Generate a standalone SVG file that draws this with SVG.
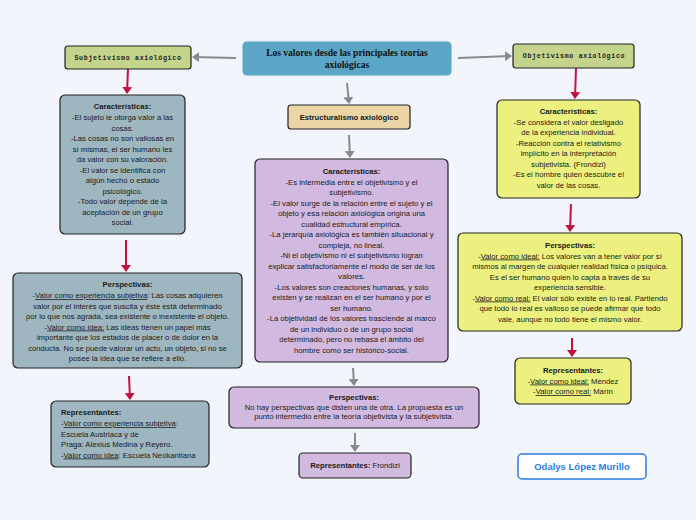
<svg xmlns="http://www.w3.org/2000/svg" width="696" height="520" viewBox="0 0 696 520">
<defs>
<marker id="ag" markerWidth="10" markerHeight="10" refX="6" refY="5" orient="auto" markerUnits="userSpaceOnUse"><path d="M0,0 L7,5 L0,10 Z" fill="#8a8a8a"/></marker>
<marker id="ar" markerWidth="10" markerHeight="10" refX="6" refY="5" orient="auto" markerUnits="userSpaceOnUse"><path d="M0,0 L7,5 L0,10 Z" fill="#c4123f"/></marker>
</defs>
<style>
.t{font-family:"Liberation Sans",Arial,sans-serif;font-size:7.7px;fill:#1a1a1a}
.c{text-anchor:middle}
.b{font-weight:bold}
.u{text-decoration:underline}
.box{stroke:#222;stroke-width:1.2}
.g{stroke:#8a8a8a;stroke-width:2;fill:none;marker-end:url(#ag)}
.r{stroke:#c4123f;stroke-width:2;fill:none;marker-end:url(#ar)}
.mono{font-family:"Liberation Mono","Courier New",monospace;font-size:6.6px;font-weight:bold;letter-spacing:0.7px;text-anchor:middle;fill:#222}
</style>
<rect width="696" height="520" fill="#f3f5fd"/>
<g id="connectors">
<path class="g" d="M236,58 L193,57"/>
<path class="g" d="M458,58 L511,56"/>
<path class="g" d="M347,83 L349,103"/>
<path class="g" d="M349,135 L350,157"/>
<path class="g" d="M353,368 L354,385"/>
<path class="g" d="M355,433 L355,451"/>
<path class="r" d="M128,69 L127,93"/>
<path class="r" d="M126,240 L126,271"/>
<path class="r" d="M129,376 L130,399"/>
<path class="r" d="M576,68 L575,98"/>
<path class="r" d="M571,204 L570,231"/>
<path class="r" d="M572,338 L572,356"/>
</g>
<g id="title">
<rect x="242" y="41" width="210" height="35" rx="5" fill="#5ba6c6" stroke="#e8f0f8" stroke-width="1"/>
<text x="347" y="55.5" font-family="Liberation Serif,serif" font-size="9.5" font-weight="bold" text-anchor="middle" fill="#111">Los valores desde las principales teorías</text>
<text x="347" y="67.5" font-family="Liberation Serif,serif" font-size="9.5" font-weight="bold" text-anchor="middle" fill="#111">axiológicas</text>
</g>
<g id="subjetivismo">
<rect class="box" x="65" y="46" width="126" height="23" rx="3" fill="#c4d48a"/>
<text class="mono" x="128" y="60">Subjetivismo axiológico</text>
</g>
<g id="objetivismo">
<rect class="box" x="513" y="44" width="121" height="24" rx="3" fill="#c4d48a"/>
<text class="mono" x="574" y="58">Objetivismo axiológico</text>
</g>
<g id="sub-caracteristicas">
<rect class="box" x="60" y="95" width="125" height="139" rx="5" fill="#9eb6c0"/>
<text class="t c" x="122.5"><tspan class="b" x="122.5" y="109">Características:</tspan><tspan x="122.5" y="120">-El sujeto le otorga valor a las</tspan><tspan x="122.5" y="130.5">cosas.</tspan><tspan x="122.5" y="141">-Las cosas no son valiosas en</tspan><tspan x="122.5" y="151.5">sí mismas, el ser humano les</tspan><tspan x="122.5" y="162">da valor con su valoración.</tspan><tspan x="122.5" y="172.5">-El valor se identifica con</tspan><tspan x="122.5" y="183">algún hecho o estado</tspan><tspan x="122.5" y="193.5">psicológico.</tspan><tspan x="122.5" y="204">-Todo valor depende de la</tspan><tspan x="122.5" y="214.5">aceptación de un grupo</tspan><tspan x="122.5" y="225">social.</tspan></text>
</g>
<g id="sub-perspectivas">
<rect class="box" x="13" y="273" width="229" height="95" rx="5" fill="#9eb6c0"/>
<text class="t c" x="127.5"><tspan class="b" x="127.5" y="287">Perspectivas:</tspan><tspan x="127.5" y="298">-<tspan class="u">Valor como experiencia subjetiva</tspan>: Las cosas adquieren</tspan><tspan x="127.5" y="308.5">valor por el interés que suscita y éste está determinado</tspan><tspan x="127.5" y="319">por lo que nos agrada, sea existente o inexistente el objeto.</tspan><tspan x="127.5" y="329.5">-<tspan class="u">Valor como idea:</tspan> Las ideas tienen un papel más</tspan><tspan x="127.5" y="340">importante que los estados de placer o de dolor en la</tspan><tspan x="127.5" y="350.5">conducta. No se puede valorar un acto, un objeto, si no se</tspan><tspan x="127.5" y="361">posee la idea que se refiere a ello.</tspan></text>
</g>
<g id="sub-representantes">
<rect class="box" x="51" y="401" width="158" height="66" rx="5" fill="#9eb6c0"/>
<text class="t"><tspan class="b" x="61" y="415">Representantes:</tspan><tspan x="61" y="426">-<tspan class="u">Valor como experiencia subjetiva</tspan>:</tspan><tspan x="61" y="436.5">Escuela Austriaca y de</tspan><tspan x="61" y="447">Praga: Alexius Medina y Reyero.</tspan><tspan x="61" y="457.5">-<tspan class="u">Valor como idea</tspan>: Escuela Neokantiana</tspan></text>
</g>
<g id="estructuralismo">
<rect class="box" x="288" y="105" width="122" height="24" rx="3" fill="#ebd5a5"/>
<text class="t c b" x="349" y="119.5">Estructuralismo axiológico</text>
</g>
<g id="est-caracteristicas">
<rect class="box" x="255" y="159" width="193" height="203" rx="5" fill="#d2b9df"/>
<text class="t c" x="351.5"><tspan class="b" x="351.5" y="174">Características:</tspan><tspan x="351.5" y="184.5">-Es intermedia entre el objetivismo y el</tspan><tspan x="351.5" y="195">subjetivismo.</tspan><tspan x="351.5" y="205.5">-El valor surge de la relación entre el sujeto y el</tspan><tspan x="351.5" y="216">objeto y esa relación axiológica origina una</tspan><tspan x="351.5" y="226.5">cualidad estructural empírica.</tspan><tspan x="351.5" y="237">-La jerarquía axiológica es también situacional y</tspan><tspan x="351.5" y="247.5">compleja, no lineal.</tspan><tspan x="351.5" y="258">-Ni el objetivismo ni el subjetivismo logran</tspan><tspan x="351.5" y="268.5">explicar satisfactoriamente el modo de ser de los</tspan><tspan x="351.5" y="279">valores.</tspan><tspan x="351.5" y="289.5">-Los valores son creaciones humanas, y solo</tspan><tspan x="351.5" y="300">existen y se realizan en el ser humano y por el</tspan><tspan x="351.5" y="310.5">ser humano.</tspan><tspan x="351.5" y="321">-La objetividad de los valores trasciende al marco</tspan><tspan x="351.5" y="331.5">de un individuo o de un grupo social</tspan><tspan x="351.5" y="342">determinado, pero no rebasa el ámbito del</tspan><tspan x="351.5" y="352.5">hombre como ser histórico-social.</tspan></text>
</g>
<g id="est-perspectivas">
<rect class="box" x="229" y="387" width="250" height="41" rx="5" fill="#d2b9df"/>
<text class="t c" x="354"><tspan class="b" x="354" y="400">Perspectivas:</tspan><tspan x="354" y="409.5">No hay perspectivas que disten una de otra. La propuesta es un</tspan><tspan x="354" y="419">punto intermedio entre la teoría objetivista y la subjetivista.</tspan></text>
</g>
<g id="est-representantes">
<rect class="box" x="299" y="453" width="112" height="25" rx="4" fill="#d2b9df"/>
<text class="t c" x="355" y="468"><tspan class="b">Representantes:</tspan> Frondizi</text>
</g>
<g id="obj-caracteristicas">
<rect class="box" x="497" y="100" width="143" height="98" rx="5" fill="#ecf07e"/>
<text class="t c" x="568.5"><tspan class="b" x="568.5" y="114">Características:</tspan><tspan x="568.5" y="124.5">-Se considera el valor desligado</tspan><tspan x="568.5" y="135">de la experiencia individual.</tspan><tspan x="568.5" y="145.5">-Reacción contra el relativismo</tspan><tspan x="568.5" y="156">implícito en la interpretación</tspan><tspan x="568.5" y="166.5">subjetivista. (Frondizi)</tspan><tspan x="568.5" y="177">-Es el hombre quien descubre el</tspan><tspan x="568.5" y="187.5">valor de las cosas.</tspan></text>
</g>
<g id="obj-perspectivas">
<rect class="box" x="458" y="233" width="224" height="98" rx="5" fill="#ecf07e"/>
<text class="t c" x="570"><tspan class="b" x="570" y="248">Perspectivas:</tspan><tspan x="570" y="258.5">-<tspan class="u">Valor como ideal:</tspan> Los valores van a tener valor por sí</tspan><tspan x="570" y="269">mismos al margen de cualquier realidad física o psíquica.</tspan><tspan x="570" y="279.5">Es el ser humano quien lo capta a través de su</tspan><tspan x="570" y="290">experiencia sensible.</tspan><tspan x="570" y="300.5">-<tspan class="u">Valor como real:</tspan> El valor sólo existe en lo real. Partiendo</tspan><tspan x="570" y="311">que todo lo real es valioso se puede afirmar que todo</tspan><tspan x="570" y="321.5">vale, aunque no todo tiene el mismo valor.</tspan></text>
</g>
<g id="obj-representantes">
<rect class="box" x="515" y="358" width="116" height="46" rx="5" fill="#ecf07e"/>
<text class="t c" x="573"><tspan class="b" x="573" y="373">Representantes:</tspan><tspan x="573" y="383.5">-<tspan class="u">Valor como ideal:</tspan> Méndez</tspan><tspan x="573" y="394">-<tspan class="u">Valor como real:</tspan> Marín</tspan></text>
</g>
<g id="autor">
<rect x="518" y="454" width="128" height="25" rx="4" fill="#ffffff" stroke="#2c7be5" stroke-width="1.5"/>
<text x="582" y="470" font-family="Liberation Sans,Arial,sans-serif" font-size="9.5" font-weight="bold" text-anchor="middle" fill="#2c7be5">Odalys López Murillo</text>
</g>
</svg>
